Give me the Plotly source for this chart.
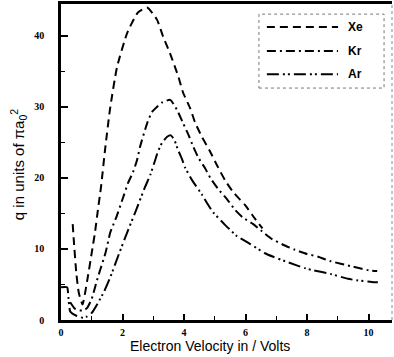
import plotly.graph_objects as go

# ---- data ----
xe_x = [0.38, 0.42, 0.5, 0.58, 0.7, 0.85, 1.0, 1.1, 1.2, 1.3, 1.43, 1.59, 1.82, 2.15, 2.5, 2.8, 3.12, 3.32, 3.54, 3.82, 3.97, 4.2, 4.36, 4.58, 4.85, 5.07, 5.33, 5.6, 5.98, 6.3, 6.55]
xe_y = [13.5, 11.0, 6.5, 3.8, 2.2, 5.5, 9.5, 12.2, 15.5, 18.7, 23.9, 29.6, 35.6, 40.4, 43.3, 44.0, 42.3, 39.9, 37.6, 34.2, 32.0, 29.8, 27.8, 25.8, 23.7, 21.8, 19.7, 18.0, 16.2, 14.3, 12.9]

kr_x = [0.3, 0.45, 0.7, 0.85, 1.0, 1.17, 1.27, 1.45, 1.6, 1.8, 2.0, 2.18, 2.34, 2.47, 2.57, 2.8, 2.96, 3.28, 3.55, 3.77, 3.97, 4.13, 4.3, 4.46, 4.68, 4.87, 5.1, 5.4, 5.66, 5.92, 6.25, 6.53, 6.86, 7.22, 7.6, 8.0, 8.36, 8.75, 9.5, 10.0, 10.28]
kr_y = [2.5, 1.6, 1.3, 1.7, 3.0, 5.6, 7.0, 9.5, 12.3, 14.5, 17.0, 19.3, 20.8, 22.5, 24.4, 27.7, 29.3, 30.6, 31.0, 29.6, 27.7, 26.2, 24.4, 22.9, 21.4, 19.9, 18.5, 17.0, 15.5, 14.4, 13.5, 12.5, 11.4, 10.6, 9.9, 9.3, 8.9, 8.3, 7.5, 7.0, 6.9]

ar_x = [0.0, 0.2, 0.23, 0.3, 0.5, 0.72, 0.85, 1.0, 1.2, 1.4, 1.6, 1.9, 2.15, 2.47, 2.73, 2.9, 3.06, 3.15, 3.28, 3.45, 3.57, 3.68, 3.8, 3.93, 4.03, 4.26, 4.59, 4.74, 4.94, 5.33, 5.5, 5.72, 6.15, 6.63, 6.9, 7.4, 7.93, 8.2, 8.75, 9.33, 9.6, 10.1, 10.3]
ar_y = [4.6, 4.6, 3.8, 1.2, 0.6, 0.3, 0.5, 1.0, 2.4, 4.0, 6.0, 9.5, 12.3, 15.8, 18.7, 20.4, 22.5, 23.7, 24.9, 25.8, 26.0, 25.4, 24.0, 22.7, 21.5, 19.7, 17.6, 16.5, 15.2, 13.4, 12.7, 11.8, 10.7, 9.4, 8.9, 8.1, 7.3, 7.0, 6.5, 5.8, 5.6, 5.35, 5.3]

series_names = ["Xe", "Kr", "Ar"]
x_ticks = [0, 2, 4, 6, 8, 10]
y_ticks = [0, 10, 20, 30, 40]

# ---- styles ----
dashes = ["8px,5px", "9px,4px,2px,4px", "12px,4px,2px,3px,2px,4px"]

fig = go.Figure()
for name, xs, ys, d in zip(series_names, [xe_x, kr_x, ar_x], [xe_y, kr_y, ar_y], dashes):
    fig.add_trace(go.Scatter(x=xs, y=ys, mode="lines", name=name,
                             line=dict(color="black", width=2, dash=d, shape="spline", smoothing=0.5),
                             showlegend=False))

tickfont = dict(family="Liberation Serif", size=10, color="black", weight="bold")
fig.update_xaxes(range=[0, 10.76], tickvals=x_ticks, ticks="inside", ticklen=6, tickwidth=1.5,
                 tickcolor="black", showline=True, linecolor="black", linewidth=2.5, mirror=True,
                 showgrid=False, zeroline=False, tickfont=tickfont, ticklabelstandoff=1,
                 minor=dict(tickvals=[1, 3, 5, 7, 9], ticks="inside", ticklen=4, tickcolor="black", tickwidth=1))
fig.update_yaxes(range=[0, 44.5], tickvals=y_ticks, ticks="inside", ticklen=7, tickwidth=1.5,
                 tickcolor="black", showline=True, linecolor="black", linewidth=2.5, mirror=False,
                 showgrid=False, zeroline=False, tickfont=tickfont, ticklabelstandoff=12,
                 minor=dict(tickvals=[5, 15, 25, 35], ticks="inside", ticklen=4, tickcolor="black", tickwidth=1))

shapes = [
    # right border (thin dotted)
    dict(type="line", xref="paper", yref="paper", x0=1, x1=1, y0=0, y1=1,
         line=dict(color="#888", width=1, dash="dot")),
    # legend box
    dict(type="rect", xref="paper", yref="paper", x0=0.598, x1=0.976, y0=0.734, y1=0.968,
         line=dict(color="#777", width=1, dash="dot"), fillcolor="white"),
]
legend_rows = [0.927, 0.851, 0.778]
annotations = []
for name, d, yy in zip(series_names, dashes, legend_rows):
    shapes.append(dict(type="line", xref="paper", yref="paper", x0=0.622, x1=0.837, y0=yy, y1=yy,
                       line=dict(color="black", width=2, dash=d)))
    annotations.append(dict(xref="paper", yref="paper", x=0.862, y=yy, text="<b>" + name + "</b>",
                            showarrow=False, xanchor="left", yanchor="middle",
                            font=dict(family="Liberation Sans", size=12, color="black")))

annotations.append(dict(xref="paper", yref="paper", x=0.45, y=0, yshift=-26,
                        text="Electron Velocity in / Volts", showarrow=False,
                        xanchor="center", yanchor="middle",
                        font=dict(family="Liberation Sans", size=14, color="black")))
annotations.append(dict(xref="paper", yref="paper", x=0, xshift=-43, y=0.49,
                        text="q in units of πa<sub>0</sub><sup>2</sup>", showarrow=False, textangle=-90,
                        xanchor="center", yanchor="middle",
                        font=dict(family="Liberation Sans", size=15, color="black")))

fig.update_layout(width=394, height=357, margin=dict(l=61, r=2, t=4, b=37),
                  paper_bgcolor="white", plot_bgcolor="white",
                  shapes=shapes, annotations=annotations, showlegend=False)

fig.write_html("out.html")
